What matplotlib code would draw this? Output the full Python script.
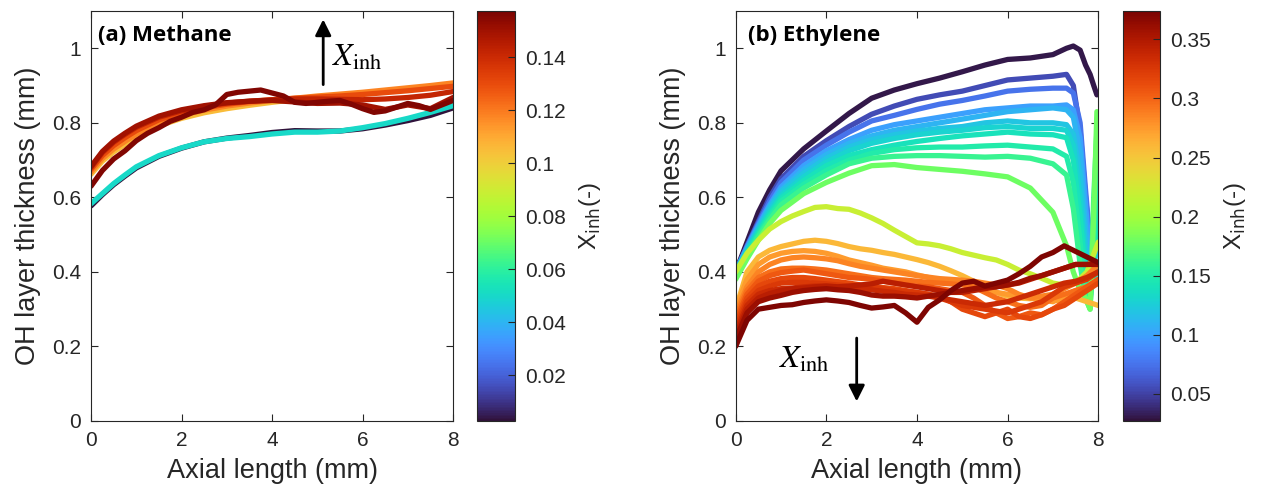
import numpy as np
import matplotlib
matplotlib.use('Agg')
import matplotlib.pyplot as plt
from matplotlib.colors import Normalize
from matplotlib.cm import ScalarMappable
from matplotlib.ticker import FormatStrFormatter

plt.rcParams['font.family'] = ['Liberation Sans', 'DejaVu Sans']

# ---------------- (a) Methane ----------------
xa = [0, 0.25, 0.5, 0.75, 1, 1.5, 2, 2.5, 3, 3.5, 4, 4.5, 5, 5.5, 6, 6.5, 7, 7.5, 8]
xinh_a = [0.003, 0.05, 0.105, 0.118, 0.13, 0.142, 0.15]
ya = [
    [0.577, 0.607, 0.634, 0.657, 0.679, 0.71, 0.732, 0.749, 0.759, 0.766, 0.774, 0.779, 0.778, 0.778, 0.784, 0.794, 0.806, 0.82, 0.84],
    [0.583, 0.61, 0.637, 0.66, 0.682, 0.712, 0.733, 0.749, 0.758, 0.763, 0.77, 0.775, 0.775, 0.778, 0.787, 0.798, 0.812, 0.828, 0.846],
    [0.662, 0.697, 0.722, 0.742, 0.762, 0.792, 0.812, 0.827, 0.838, 0.847, 0.855, 0.862, 0.868, 0.873, 0.878, 0.884, 0.89, 0.896, 0.902],
    [0.668, 0.704, 0.73, 0.75, 0.77, 0.8, 0.82, 0.834, 0.845, 0.853, 0.86, 0.866, 0.872, 0.877, 0.882, 0.888, 0.894, 0.9, 0.907],
    [0.675, 0.712, 0.739, 0.76, 0.779, 0.808, 0.827, 0.84, 0.85, 0.857, 0.862, 0.866, 0.869, 0.872, 0.876, 0.881, 0.886, 0.892, 0.898],
    [0.68, 0.72, 0.748, 0.769, 0.788, 0.815, 0.832, 0.844, 0.853, 0.858, 0.862, 0.864, 0.864, 0.863, 0.862, 0.864, 0.868, 0.874, 0.884],
    [0.683, 0.723, 0.751, 0.772, 0.791, 0.818, 0.835, 0.846, 0.854, 0.858, 0.86, 0.856, 0.852, 0.853, 0.848, 0.836, 0.848, 0.838, 0.868],
]
# noisier highest-inhibitor methane case
xa_w = [0, 0.25, 0.5, 0.75, 1, 1.25, 1.5, 1.75, 2, 2.25, 2.5, 2.75, 3, 3.25, 3.5, 3.75, 4,
        4.25, 4.5, 4.75, 5, 5.25, 5.5, 5.75, 6, 6.25, 6.5, 6.75, 7, 7.25, 7.5, 7.75, 8]
xinh_a_w = 0.156
ya_w = [0.63, 0.672, 0.703, 0.725, 0.752, 0.772, 0.787, 0.804, 0.815, 0.828, 0.835, 0.848, 0.876,
        0.882, 0.885, 0.888, 0.88, 0.872, 0.855, 0.852, 0.855, 0.858, 0.86, 0.85, 0.838, 0.828,
        0.832, 0.842, 0.852, 0.846, 0.836, 0.848, 0.86]

# ---------------- (b) Ethylene ----------------
xb_u = [0, 0.25, 0.5, 0.75, 1, 1.5, 2, 2.5, 3, 3.5, 4, 4.5, 5, 5.5, 6, 6.5, 7,
        7.3, 7.45, 7.6, 7.72, 7.82, 7.9, 7.97]
xinh_b_u = [0.03, 0.055, 0.075, 0.10, 0.11, 0.12, 0.13, 0.14, 0.15, 0.16, 0.18]
yb_u = [
    [0.40, 0.48, 0.56, 0.62, 0.671, 0.73, 0.778, 0.825, 0.866, 0.888, 0.905, 0.92, 0.937, 0.955, 0.97, 0.974, 0.983, 1.0, 1.006, 0.995, 0.955, 0.93, 0.90, 0.875],
    [0.40, 0.47, 0.535, 0.60, 0.65, 0.71, 0.752, 0.79, 0.823, 0.845, 0.863, 0.875, 0.885, 0.90, 0.915, 0.92, 0.925, 0.93, 0.90, 0.78, 0.60, 0.47, 0.50, 0.55],
    [0.40, 0.468, 0.53, 0.59, 0.64, 0.70, 0.74, 0.775, 0.805, 0.82, 0.836, 0.85, 0.86, 0.872, 0.885, 0.89, 0.893, 0.893, 0.88, 0.80, 0.62, 0.48, 0.50, 0.60],
    [0.40, 0.465, 0.525, 0.58, 0.628, 0.685, 0.725, 0.755, 0.78, 0.795, 0.805, 0.815, 0.825, 0.835, 0.84, 0.845, 0.845, 0.848, 0.835, 0.76, 0.58, 0.44, 0.45, 0.50],
    [0.40, 0.46, 0.52, 0.575, 0.62, 0.675, 0.715, 0.745, 0.765, 0.78, 0.79, 0.80, 0.81, 0.82, 0.83, 0.835, 0.84, 0.835, 0.815, 0.72, 0.52, 0.40, 0.42, 0.46],
    [0.40, 0.46, 0.515, 0.57, 0.615, 0.665, 0.705, 0.735, 0.755, 0.768, 0.778, 0.785, 0.79, 0.80, 0.805, 0.80, 0.80, 0.795, 0.77, 0.66, 0.47, 0.37, 0.40, 0.42],
    [0.40, 0.455, 0.51, 0.562, 0.605, 0.655, 0.695, 0.725, 0.745, 0.758, 0.768, 0.775, 0.78, 0.787, 0.79, 0.785, 0.785, 0.78, 0.74, 0.60, 0.42, 0.35, 0.38, 0.40],
    [0.40, 0.45, 0.505, 0.555, 0.598, 0.645, 0.685, 0.712, 0.728, 0.74, 0.75, 0.758, 0.765, 0.77, 0.775, 0.77, 0.768, 0.76, 0.70, 0.55, 0.38, 0.33, 0.40, 0.58],
    [0.39, 0.445, 0.50, 0.548, 0.59, 0.635, 0.672, 0.70, 0.718, 0.728, 0.733, 0.735, 0.735, 0.738, 0.74, 0.735, 0.73, 0.71, 0.64, 0.48, 0.35, 0.31, 0.45, 0.68],
    [0.39, 0.44, 0.495, 0.54, 0.58, 0.625, 0.66, 0.69, 0.705, 0.71, 0.712, 0.712, 0.71, 0.708, 0.71, 0.705, 0.69, 0.66, 0.57, 0.42, 0.33, 0.30, 0.60, 0.78],
    [0.38, 0.435, 0.485, 0.53, 0.565, 0.61, 0.64, 0.665, 0.685, 0.688, 0.68, 0.675, 0.67, 0.663, 0.655, 0.625, 0.56, 0.47, 0.40, 0.35, 0.33, 0.30, 0.55, 0.83],
]

xb_l = [0, 0.25, 0.5, 0.75, 1, 1.25, 1.5, 1.75, 2, 2.25, 2.5, 2.75, 3, 3.25, 3.5, 3.75, 4,
        4.25, 4.5, 4.75, 5, 5.25, 5.5, 5.75, 6, 6.25, 6.5, 6.75, 7, 7.25, 7.5, 7.75, 8]
xinh_b_l = [0.22, 0.26, 0.275, 0.285, 0.295, 0.305, 0.315, 0.325, 0.335, 0.345, 0.36, 0.372]
yb_l = [
    [0.40, 0.45, 0.485, 0.515, 0.535, 0.55, 0.562, 0.573, 0.575, 0.57, 0.568, 0.558, 0.545, 0.53, 0.512, 0.495, 0.478, 0.475, 0.47, 0.462, 0.452, 0.445, 0.438, 0.432, 0.42, 0.405, 0.395, 0.383, 0.37, 0.365, 0.37, 0.40, 0.48],
    [0.30, 0.40, 0.44, 0.458, 0.468, 0.475, 0.482, 0.485, 0.482, 0.476, 0.468, 0.462, 0.458, 0.452, 0.447, 0.44, 0.433, 0.425, 0.415, 0.403, 0.39, 0.375, 0.36, 0.345, 0.335, 0.33, 0.328, 0.33, 0.325, 0.32, 0.33, 0.32, 0.31],
    [0.30, 0.38, 0.42, 0.44, 0.45, 0.455, 0.457, 0.455, 0.45, 0.442, 0.432, 0.425, 0.418, 0.41, 0.405, 0.40, 0.392, 0.385, 0.378, 0.372, 0.368, 0.36, 0.35, 0.345, 0.34, 0.335, 0.33, 0.325, 0.32, 0.335, 0.35, 0.36, 0.38],
    [0.29, 0.36, 0.40, 0.42, 0.432, 0.438, 0.44, 0.438, 0.435, 0.43, 0.422, 0.415, 0.41, 0.405, 0.40, 0.395, 0.39, 0.386, 0.382, 0.38, 0.378, 0.375, 0.37, 0.365, 0.355, 0.34, 0.33, 0.335, 0.34, 0.355, 0.37, 0.39, 0.42],
    [0.28, 0.35, 0.385, 0.40, 0.408, 0.41, 0.41, 0.408, 0.405, 0.40, 0.395, 0.39, 0.385, 0.382, 0.38, 0.378, 0.375, 0.372, 0.37, 0.368, 0.365, 0.36, 0.345, 0.33, 0.32, 0.31, 0.305, 0.31, 0.33, 0.34, 0.35, 0.36, 0.37],
    [0.27, 0.34, 0.375, 0.39, 0.398, 0.402, 0.405, 0.40, 0.395, 0.39, 0.385, 0.383, 0.38, 0.375, 0.37, 0.365, 0.362, 0.36, 0.355, 0.35, 0.345, 0.33, 0.31, 0.29, 0.275, 0.28, 0.29, 0.285, 0.30, 0.32, 0.34, 0.36, 0.38],
    [0.26, 0.33, 0.362, 0.375, 0.382, 0.385, 0.385, 0.382, 0.378, 0.374, 0.37, 0.365, 0.36, 0.358, 0.355, 0.35, 0.345, 0.34, 0.335, 0.32, 0.30, 0.29, 0.28, 0.29, 0.30, 0.28, 0.275, 0.285, 0.30, 0.31, 0.33, 0.35, 0.37],
    [0.25, 0.32, 0.35, 0.362, 0.37, 0.372, 0.372, 0.37, 0.368, 0.365, 0.362, 0.36, 0.358, 0.355, 0.35, 0.348, 0.345, 0.34, 0.33, 0.32, 0.31, 0.305, 0.30, 0.295, 0.29, 0.30, 0.31, 0.32, 0.34, 0.36, 0.37, 0.38, 0.40],
    [0.24, 0.31, 0.34, 0.35, 0.355, 0.357, 0.36, 0.362, 0.362, 0.36, 0.358, 0.355, 0.352, 0.348, 0.345, 0.34, 0.338, 0.335, 0.33, 0.325, 0.32, 0.315, 0.31, 0.315, 0.32, 0.33, 0.34, 0.35, 0.36, 0.37, 0.375, 0.385, 0.40],
    [0.23, 0.30, 0.33, 0.342, 0.35, 0.355, 0.357, 0.36, 0.362, 0.36, 0.362, 0.365, 0.368, 0.375, 0.37, 0.365, 0.36, 0.355, 0.35, 0.345, 0.345, 0.35, 0.355, 0.36, 0.365, 0.37, 0.38, 0.39, 0.40, 0.41, 0.42, 0.42, 0.425],
    [0.22, 0.29, 0.32, 0.33, 0.337, 0.345, 0.35, 0.353, 0.355, 0.352, 0.35, 0.345, 0.338, 0.335, 0.335, 0.333, 0.33, 0.335, 0.34, 0.345, 0.35, 0.355, 0.36, 0.36, 0.365, 0.372, 0.383, 0.39, 0.40, 0.41, 0.42, 0.42, 0.42],
    [0.20, 0.27, 0.30, 0.305, 0.31, 0.312, 0.318, 0.322, 0.325, 0.322, 0.318, 0.31, 0.303, 0.306, 0.31, 0.29, 0.265, 0.305, 0.325, 0.35, 0.37, 0.375, 0.362, 0.37, 0.378, 0.395, 0.415, 0.44, 0.452, 0.47, 0.455, 0.44, 0.425],
]

cbar_ticks_a = [0.02, 0.04, 0.06, 0.08, 0.1, 0.12, 0.14]
cbar_ticks_b = [0.05, 0.1, 0.15, 0.2, 0.25, 0.3, 0.35]

# ---------------- figure ----------------
grey = '#262626'
fig = plt.figure(figsize=(12.66, 5.0), dpi=100)
ax1 = fig.add_axes([0.0719, 0.158, 0.286, 0.820])
cax1 = fig.add_axes([0.377, 0.158, 0.0298, 0.820])
ax2 = fig.add_axes([0.5811, 0.158, 0.2864, 0.820])
cax2 = fig.add_axes([0.8873, 0.158, 0.029, 0.820])

cmap = plt.get_cmap('turbo')
norm_a = Normalize(0.0027, 0.1575)
norm_b = Normalize(0.027, 0.374)
lw = 3.8

for xv, yv in zip(xinh_a, ya):
    ax1.plot(xa, yv, color=cmap(norm_a(xv)), lw=lw, solid_capstyle='round')
ax1.plot(xa_w, ya_w, color=cmap(norm_a(xinh_a_w)), lw=lw, solid_capstyle='round')

for xv, yv in zip(xinh_b_u, yb_u):
    ax2.plot(xb_u, yv, color=cmap(norm_b(xv)), lw=lw, solid_capstyle='round')
for xv, yv in zip(xinh_b_l, yb_l):
    ax2.plot(xb_l, yv, color=cmap(norm_b(xv)), lw=lw, solid_capstyle='round')

for ax in (ax1, ax2):
    ax.set_xlim(0, 8)
    ax.set_ylim(0, 1.1)
    ax.set_xticks([0, 2, 4, 6, 8])
    ax.set_yticks([0, 0.2, 0.4, 0.6, 0.8, 1])
    ax.yaxis.set_major_formatter(FormatStrFormatter('%g'))
    ax.tick_params(direction='in', top=True, right=True, length=5, width=0.8,
                   labelsize=15, colors=grey, pad=7)
    for s in ax.spines.values():
        s.set_color(grey)
        s.set_linewidth(0.8)
    ax.set_xlabel('Axial length (mm)', fontsize=19.5, color=grey, labelpad=6)
    ax.set_ylabel('OH layer thickness (mm)', fontsize=19.5, color=grey, labelpad=8)

ax1.text(0.02, 0.94, '(a) Methane', transform=ax1.transAxes, fontsize=16,
         fontweight='bold', family='Open Sans', va='center', ha='left')
ax2.text(0.035, 0.94, '(b) Ethylene', transform=ax2.transAxes, fontsize=16,
         fontweight='bold', family='Open Sans', va='center', ha='left')

ax1.annotate('', xy=(5.13, 1.085), xytext=(5.13, 0.895),
             arrowprops=dict(arrowstyle='-|>', lw=2, color='k', mutation_scale=24))
ax1.text(5.33, 0.975, r'$X_{\mathrm{inh}}$', fontsize=23, math_fontfamily='stix',
         va='center', ha='left')
ax2.annotate('', xy=(2.67, 0.045), xytext=(2.67, 0.23),
             arrowprops=dict(arrowstyle='-|>', lw=2, color='k', mutation_scale=24))
ax2.text(0.95, 0.165, r'$X_{\mathrm{inh}}$', fontsize=23, math_fontfamily='stix',
         va='center', ha='left')

for cax, norm, ticks in ((cax1, norm_a, cbar_ticks_a), (cax2, norm_b, cbar_ticks_b)):
    sm = ScalarMappable(norm=norm, cmap=cmap)
    cb = fig.colorbar(sm, cax=cax)
    cb.set_ticks(ticks)
    cb.ax.yaxis.set_major_formatter(FormatStrFormatter('%g'))
    cb.ax.tick_params(direction='in', length=5, width=0.8, labelsize=15, colors=grey, pad=7)
    cb.outline.set_edgecolor(grey)
    cb.outline.set_linewidth(0.8)
    cb.set_label(r'X$_{\mathrm{inh}}$(-)', fontsize=17.5, color=grey,
                 math_fontfamily='dejavusans', labelpad=8)

fig.savefig('out.png', dpi=100)
